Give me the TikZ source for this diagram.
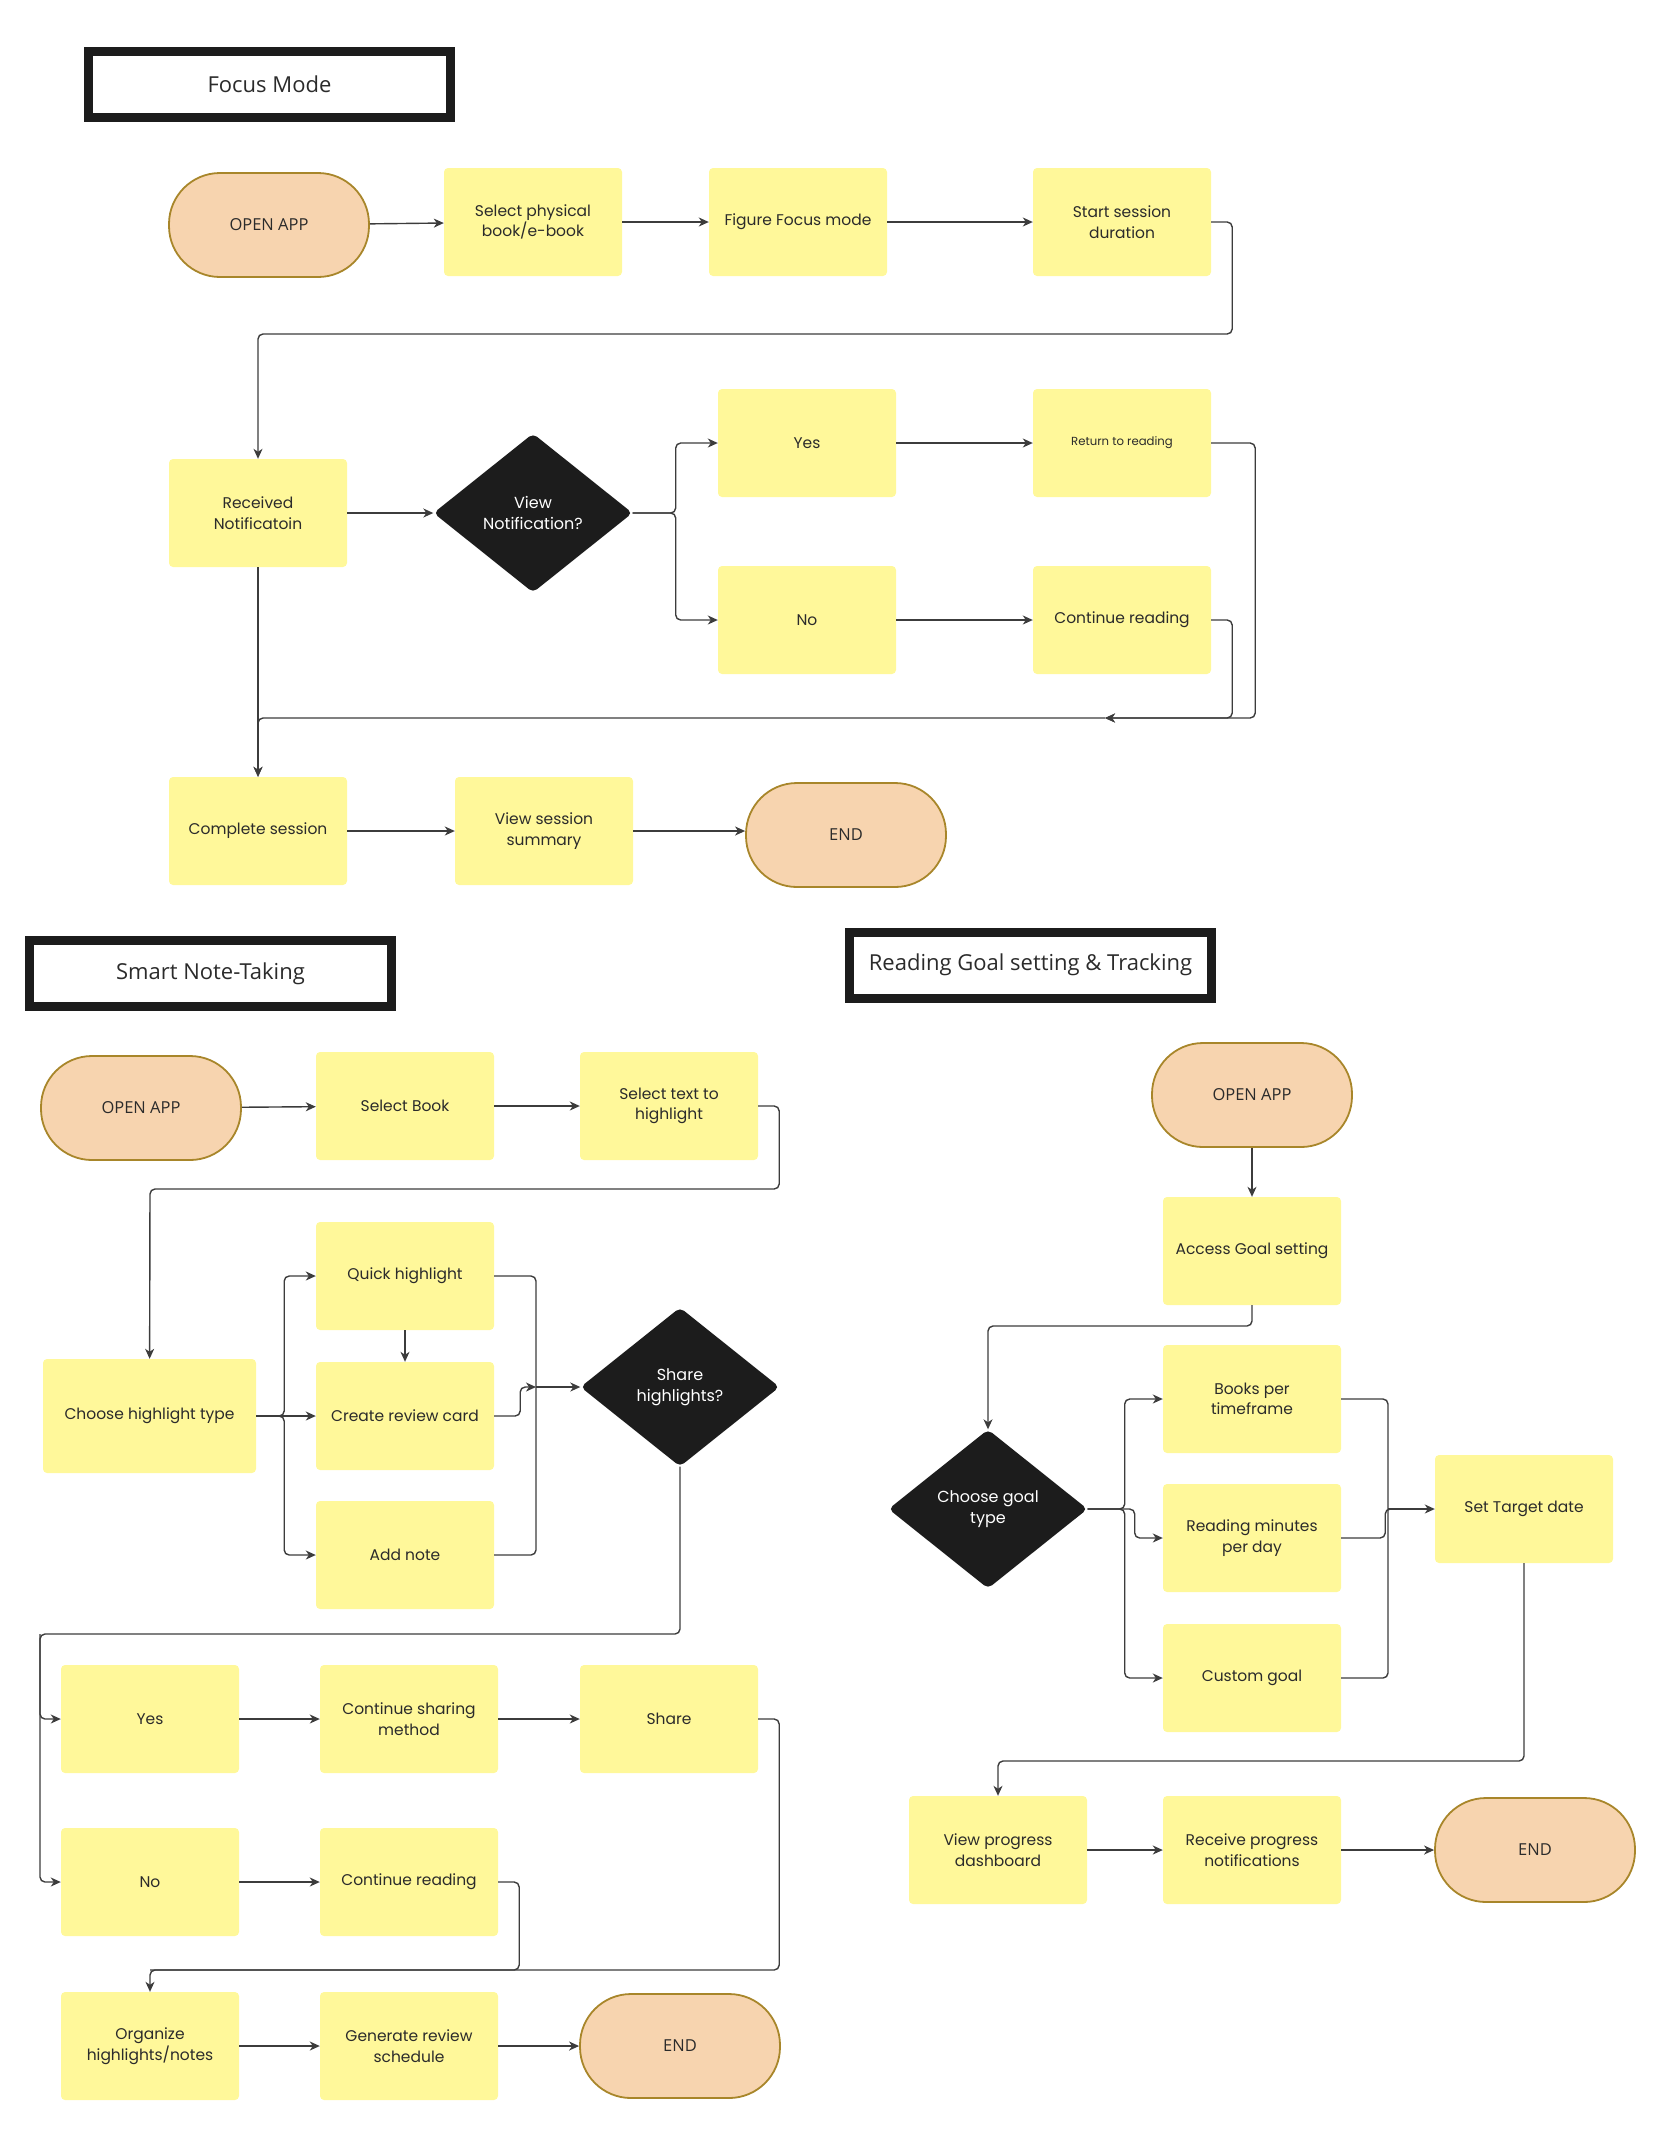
\documentclass[tikz,border=0pt]{standalone}
\usepackage{fontspec}
\setmainfont{Poppins}
\newfontfamily\headfont{Open Sans}
\usetikzlibrary{arrows.meta,shapes.geometric}

\definecolor{notey}{HTML}{FFF89A}
\definecolor{peach}{HTML}{F7D4AF}
\definecolor{gold}{HTML}{A8862A}
\definecolor{ink}{HTML}{2B2B2B}
\definecolor{wirec}{HTML}{3C3C3C}
\definecolor{darkd}{HTML}{1C1C1C}

\tikzset{
  stepbox/.style={fill=notey, rounded corners=4pt, minimum width=178pt, minimum height=108pt,
    align=center, inner sep=2pt, text=ink, font=\fontsize{15.5}{20.5}\selectfont},
  terminal/.style={fill=peach, draw=gold, line width=1.8pt, rounded corners=51pt,
    minimum width=200pt, minimum height=104pt, text=ink, font=\headfont\fontsize{16.5}{19}\selectfont},
  decision/.style={diamond, fill=darkd, text=white, minimum width=199pt, minimum height=159pt,
    inner sep=0pt, align=center, rounded corners=5pt, font=\fontsize{16}{21}\selectfont},
  heading/.style={draw=darkd, line width=9pt, minimum width=362pt, minimum height=66pt,
    text=ink, font=\headfont\fontsize{22}{25}\selectfont},
  wire/.style={draw=wirec, line width=1.4pt, rounded corners=5pt},
  conn/.style={wire, -{Stealth[length=10pt,width=9pt,inset=3pt]}},
}

\begin{document}
\begin{tikzpicture}[x=1pt,y=-1pt]
  \useasboundingbox (0,0) rectangle (1660,2153);

  %% Focus Mode
  \node[heading] (fTitle) at (269.5,84.5) {Focus Mode};
  \node[terminal] (fOpen) at (269,225) {OPEN APP};
  \node[stepbox] (fSelect) at (533,222) {Select physical\\book/e-book};
  \node[stepbox] (fFigure) at (798,222) {Figure Focus mode};
  \node[stepbox] (fStart) at (1122,222) {Start session\\duration};
  \node[stepbox] (fRecv) at (258,513) {Received\\Notificatoin};
  \node[decision] (fView) at (533,513) {View\\Notification?};
  \node[stepbox] (fYes) at (807,443) {Yes};
  \node[stepbox, font=\fontsize{11.7}{14}\selectfont] (fReturn) at (1122,443) {Return to reading};
  \node[stepbox] (fNo) at (807,620) {No};
  \node[stepbox] (fCont) at (1122,620) {Continue reading};
  \node[stepbox] (fComplete) at (258,831) {Complete session};
  \node[stepbox] (fSummary) at (544,831) {View session\\summary};
  \node[terminal] (fEnd) at (846,835) {END};
  \coordinate (fTurn) at (258,334);
  \coordinate (fMerge) at (1105,718);

  \foreach \a/\b in {fOpen/fSelect, fSelect/fFigure, fFigure/fStart, fRecv/fView,
                     fYes/fReturn, fNo/fCont, fRecv/fComplete, fComplete/fSummary}
    \draw[conn] (\a) -- (\b);
  \draw[conn] (fSummary) -- (fSummary -| fEnd.west);
  \draw[conn] (fStart.east) -- ++(21,0) |- (fTurn) -- (fRecv);
  \draw[conn] (fView.east) -- ++(43,0) |- (fYes);
  \draw[conn] (fView.east) -- ++(43,0) |- (fNo);
  \draw[conn] (fReturn.east) -- ++(44,0) |- (fMerge);
  \draw[conn] (fCont.east) -- ++(21,0) |- (fMerge);
  \draw[conn] (fMerge) -| (fComplete);

  %% Smart Note-Taking
  \node[heading] (sTitle) at (210.5,973.5) {Smart Note-Taking};
  \node[terminal] (sOpen) at (141,1108) {OPEN APP};
  \node[stepbox] (sBook) at (405,1106) {Select Book};
  \node[stepbox] (sText) at (669,1106) {Select text to\\highlight};
  \node[stepbox, minimum width=213pt, minimum height=114pt] (sChoose) at (149.5,1416) {Choose highlight type};
  \node[stepbox] (sQuick) at (405,1276) {Quick highlight};
  \node[stepbox] (sCard) at (405,1416) {Create review card};
  \node[stepbox] (sNote) at (405,1555) {Add note};
  \node[decision] (sShare) at (680,1387) {Share\\highlights?};
  \node[stepbox] (sYes) at (150,1719) {Yes};
  \node[stepbox] (sMethod) at (409,1719) {Continue sharing\\method};
  \node[stepbox] (sSend) at (669,1719) {Share};
  \node[stepbox] (sNo) at (150,1882) {No};
  \node[stepbox] (sRead) at (409,1882) {Continue reading};
  \node[stepbox] (sOrg) at (150,2046) {Organize\\highlights/notes};
  \node[stepbox] (sSched) at (409,2046) {Generate review\\schedule};
  \node[terminal] (sEnd) at (680,2046) {END};
  \coordinate (sTurn) at (150,1189);
  \coordinate (sJoin) at (536,1387);
  \coordinate (sDrop) at (40,1634);
  \coordinate (sGather) at (150,1970);

  \foreach \a/\b in {sOpen/sBook, sBook/sText, sChoose/sCard, sQuick/sCard, sJoin/sShare,
                     sYes/sMethod, sMethod/sSend, sNo/sRead, sOrg/sSched, sSched/sEnd}
    \draw[conn] (\a) -- (\b);
  \draw[conn] (sText.east) -- ++(21,0) |- (sTurn) -- (sChoose);
  \draw[conn] (sChoose.east) -- ++(28,0) |- (sQuick);
  \draw[conn] (sChoose.east) -- ++(28,0) |- (sNote);
  \draw[wire] (sQuick.east) -| (sJoin);
  \draw[wire] (sNote.east) -| (sJoin);
  \draw[conn] (sCard.east) -- ++(26,0) |- (sJoin);
  \draw[conn] (sShare) |- (sDrop) |- (sYes);
  \draw[conn] (sDrop) |- (sNo);
  \draw[conn] (sSend.east) -- ++(21,0) |- (sGather) -- (sOrg);
  \draw[wire] (sRead.east) -- ++(21,0) |- (sGather);

  %% Reading Goal setting & Tracking
  \node[heading] (rTitle) at (1030.5,965) {Reading Goal setting \& Tracking};
  \node[terminal] (rOpen) at (1252,1095) {OPEN APP};
  \node[stepbox] (rAccess) at (1252,1251) {Access Goal setting};
  \node[decision] (rGoal) at (988,1509) {Choose goal\\type};
  \node[stepbox] (rBooks) at (1252,1399) {Books per\\timeframe};
  \node[stepbox] (rMinutes) at (1252,1538) {Reading minutes\\per day};
  \node[stepbox] (rCustom) at (1252,1678) {Custom goal};
  \node[stepbox] (rTarget) at (1524,1509) {Set Target date};
  \node[stepbox] (rDash) at (998,1850) {View progress\\dashboard};
  \node[stepbox] (rNotify) at (1252,1850) {Receive progress\\notifications};
  \node[terminal] (rEnd) at (1535,1850) {END};
  \coordinate (rTurn) at (988,1326);
  \coordinate (rJoin) at (1388,1509);
  \coordinate (rTurnB) at (998,1761);

  \foreach \a/\b in {rOpen/rAccess, rJoin/rTarget, rDash/rNotify, rNotify/rEnd}
    \draw[conn] (\a) -- (\b);
  \draw[conn] (rAccess) |- (rTurn) -- (rGoal);
  \draw[conn] (rGoal.east) -- ++(37,0) |- (rBooks);
  \draw[conn] (rGoal.east) -- ++(37,0) |- (rCustom);
  \draw[conn] (rGoal.east) -- ++(47,0) |- (rMinutes);
  \draw[wire] (rBooks.east) -| (rJoin);
  \draw[wire] (rCustom.east) -| (rJoin);
  \draw[wire] (rMinutes.east) -- ++(44,0) |- (rJoin);
  \draw[conn] (rTarget) |- (rTurnB) -- (rDash);
\end{tikzpicture}
\end{document}
